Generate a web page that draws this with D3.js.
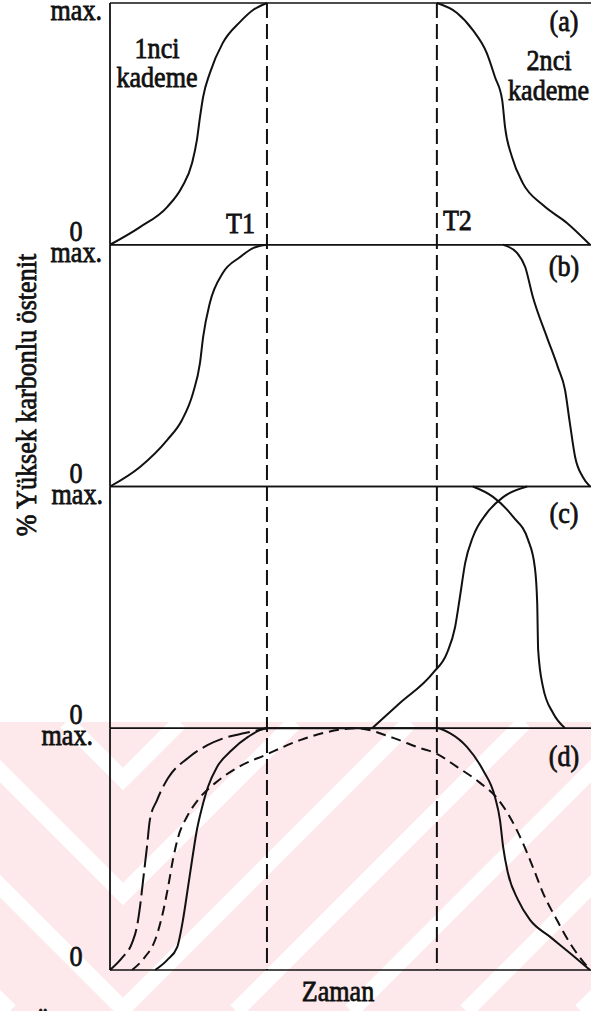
<!DOCTYPE html>
<html>
<head>
<meta charset="utf-8">
<script src="https://cdn.jsdelivr.net/npm/d3@7"></script>
<style>
  html, body { margin: 0; padding: 0; background: #fff; }
  svg { display: block; }
</style>
</head>
<body>
<svg id="chart" width="591" height="1011"></svg>
<script>
// ---------------- DATA ----------------
const panelLabels = ["(a)", "(b)", "(c)", "(d)"];
const yTickLabels = ["0", "max."];
const markerLabels = ["T1", "T2"];
const markerTimes = [32.7, 68.1];
const stageLabels1 = ["1nci", "kademe"];
const stageLabels2 = ["2nci", "kademe"];
const xAxisTitle = "Zaman";
const yAxisTitle = "% Yüksek karbonlu östenit";

// [time (0-100), % of max]
const aStage1 = [[0,0],[6.25,7.3],[11.9,15.6],[15.0,23.9],[17.1,33.8],[18.1,43.3],[18.75,52.8],[19.4,61.1],[20.8,71.0],[23.5,83.5],[27.1,92.2],[29.8,97.1],[32.7,100]];
const aStage2 = [[68.1,100],[72.3,95.9],[75.6,88.8],[78.5,79.3],[80.2,69.4],[81.7,59.9],[82.3,48.7],[83.75,36.3],[86.0,25.5],[90.2,16.4],[95.2,9.0],[100,0]];

const bStage1 = [[0,0],[6.25,8.1],[11.9,19.2],[15.0,27.5],[17.3,38.7],[18.75,51.1],[19.4,61.8],[20.8,75.9],[23.5,88.3],[27.1,94.9],[29.8,98.6],[32.7,100]];
const bStage2 = [[81.9,100],[84.8,96.6],[86.5,90.8],[88.1,78.4],[91.0,61.9],[93.3,49.4],[94.8,39.9],[95.8,26.3],[96.9,12.2],[98.5,3.9],[100,0]];

const cRise = [[54.6,0],[60.4,10.4],[67.3,22.9],[70.2,31.1],[71.9,41.9],[72.9,54.3],[74.0,68.4],[75.6,79.1],[78.5,89.0],[81.9,95.6],[86.9,100]];
const cFall = [[75.6,100],[79.8,95.7],[84.0,87.4],[87.1,77.9],[88.5,66.7],[89.0,51.8],[89.2,32.4],[90.2,17.1],[92.3,6.3],[94.8,0]];

const dSolid = [[9.4,0],[11.9,4.1],[14.0,9.5],[15.2,20.7],[16.25,34.3],[17.1,45.5],[18.1,57.9],[19.2,67.4],[20.4,75.7],[22.3,84.0],[25.4,91.0],[28.75,96.4],[32.7,100],[68.1,100],[70.8,98.0],[74.4,92.2],[77.7,82.7],[80.2,71.6],[81.25,62.0],[81.9,50.9],[82.9,40.1],[85.0,29.0],[87.5,20.7],[91.7,13.7],[95.8,7.0],[100,0]];
const dLongDash = [[0,0],[2.5,5.0],[4.6,11.2],[5.6,17.8],[6.25,26.1],[6.9,37.2],[7.7,50.9],[8.3,62.0],[9.8,70.3],[12.1,79.4],[16.25,87.7],[20.4,93.1],[23.3,95.6],[28.1,98.0],[32.7,100]];
const dShortDash = [[4.6,0],[7.3,5.4],[9.4,12.4],[10.8,21.9],[12.1,34.3],[13.1,45.5],[14.2,55.0],[16.0,63.3],[18.3,70.3],[21.9,77.3],[26.7,83.9],[32.3,88.9],[39.6,95.1],[45.2,98.4],[51.5,100],[59.0,96.0],[64.6,91.8],[67.7,89.8],[72.3,84.0],[77.1,77.4],[80.6,71.2],[83.3,63.3],[86.0,52.6],[88.1,42.6],[90.2,31.9],[93.1,20.7],[95.8,11.2],[100,0]];

const panelSeries = [
  [{data: aStage1, dash: null}, {data: aStage2, dash: null}],
  [{data: bStage1, dash: null}, {data: bStage2, dash: null}],
  [{data: cRise, dash: null}, {data: cFall, dash: null}],
  [{data: dLongDash, dash: "22,6"}, {data: dShortDash, dash: "10,6"}, {data: dSolid, dash: null}]
];

// ---------------- LAYOUT ----------------
const svg = d3.select("#chart");
const W = 591, H = 1011;
const left = 110, right = 590;
const topY = 3, panelH = 241.75;
const FONT = "'Liberation Serif', 'Times New Roman', serif";
const FS = 30, SX = 0.87;

// faint watermark in the lower part of the page
const wmTop = 722, axisX = 123;
const defs = svg.append("defs");
defs.append("clipPath").attr("id", "wmRight")
  .append("rect").attr("x", axisX).attr("y", wmTop).attr("width", W - axisX).attr("height", H - wmTop);
defs.append("clipPath").attr("id", "wmLeft")
  .append("rect").attr("x", 0).attr("y", wmTop).attr("width", axisX).attr("height", H - wmTop);
const wm = svg.append("g");
wm.append("rect").attr("x", 0).attr("y", wmTop).attr("width", W).attr("height", H - wmTop).attr("fill", "#fde8eb");
const wmR = wm.append("g").attr("clip-path", "url(#wmRight)");
const wmL = wm.append("g").attr("clip-path", "url(#wmLeft)");
d3.range(-4, 5).forEach(k => {
  const c = 1247 + 115 * k; // stripes x + y = c
  wmR.append("line").attr("x1", c - H).attr("y1", H).attr("x2", c - wmTop).attr("y2", wmTop)
    .attr("stroke", "#fff").attr("stroke-width", 16);
  const m = c - 2 * axisX; // mirrored: y - x = m
  wmL.append("line").attr("x1", wmTop - m).attr("y1", wmTop).attr("x2", H - m).attr("y2", H)
    .attr("stroke", "#fff").attr("stroke-width", 16);
});

const x = d3.scaleLinear().domain([0, 100]).range([left, right]);

function addText(sel, tx, ty, str, anchor, rot) {
  return sel.append("text")
    .attr("transform", `translate(${tx},${ty})` + (rot ? ` rotate(${rot})` : "") + ` scale(${SX},1)`)
    .attr("text-anchor", anchor || "start")
    .attr("font-family", FONT)
    .attr("font-size", FS)
    .attr("fill", "#111")
    .attr("stroke", "#111")
    .attr("stroke-width", 0.8)
    .text(str);
}

const maxLabelX = [102, 102, 103, 93];
const panelLabelDy = [28, 31, 36, 38];

panelSeries.forEach((series, i) => {
  const pt = topY + i * panelH;
  const pb = pt + panelH;
  const y = d3.scaleLinear().domain([0, 100]).range([pb, pt]);
  const g = svg.append("g");

  g.append("line").attr("x1", left).attr("x2", left).attr("y1", pt).attr("y2", pb)
    .attr("stroke", "#111").attr("stroke-width", 1.8);
  g.append("line").attr("x1", left).attr("x2", W).attr("y1", y(100)).attr("y2", y(100))
    .attr("stroke", "#111").attr("stroke-width", 1.6);
  g.append("line").attr("x1", left).attr("x2", W).attr("y1", y(0)).attr("y2", y(0))
    .attr("stroke", "#111").attr("stroke-width", 1.6);

  const line = d3.line().x(d => x(d[0])).y(d => y(d[1])).curve(d3.curveMonotoneX);
  series.forEach(s => {
    g.append("path").attr("d", line(s.data))
      .attr("fill", "none").attr("stroke", "#111").attr("stroke-width", 2)
      .attr("stroke-dasharray", s.dash);
  });

  addText(g, maxLabelX[i], pt + 17, yTickLabels[1], "end");
  addText(g, 76, pb - 4, yTickLabels[0], "middle");
  addText(g, 564, pt + panelLabelDy[i], panelLabels[i], "middle");
});

markerTimes.forEach(t => {
  svg.append("line").attr("x1", x(t)).attr("x2", x(t)).attr("y1", topY).attr("y2", topY + 4 * panelH)
    .attr("stroke", "#111").attr("stroke-width", 2).attr("stroke-dasharray", "15,6");
});

addText(svg, x(markerTimes[0]) - 12, 233, markerLabels[0], "end");
addText(svg, x(markerTimes[1]) + 6, 230, markerLabels[1], "start");

addText(svg, 157, 58, stageLabels1[0], "middle");
addText(svg, 157, 87, stageLabels1[1], "middle");
addText(svg, 549, 70, stageLabels2[0], "middle");
addText(svg, 508, 100, stageLabels2[1], "start");

addText(svg, 338, 1001, xAxisTitle, "middle");
addText(svg, 36, 395, yAxisTitle, "middle", -90);
addText(svg, 43, 1033, "Ü", "middle");
</script>
</body>
</html>
